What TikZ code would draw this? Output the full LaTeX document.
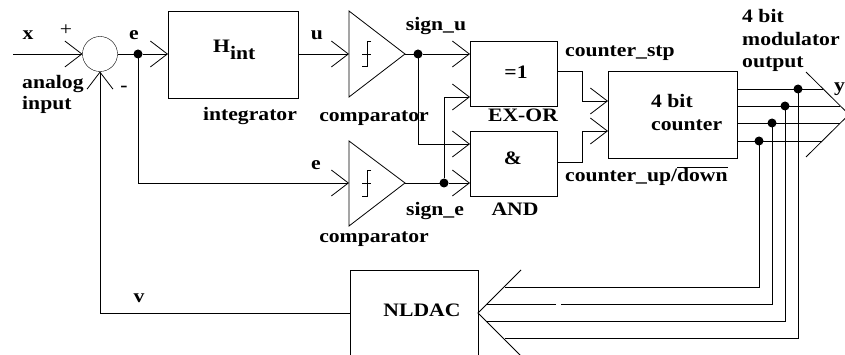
\documentclass[tikz,border=0pt]{standalone}
\usepackage{fontspec}
\setmainfont[FakeStretch=1.14]{Liberation Serif}
\usetikzlibrary{arrows.meta}
\begin{document}
\begin{tikzpicture}[x=1pt,y=-1pt]
	\tikzstyle{box}=[rectangle,draw,inner sep=0,outer sep=0]
	\tikzstyle{sumnode}=[circle,draw,minimum size=35pt,inner sep=0,outer sep=0]
	\tikzstyle{dotnode}=[circle,fill=black,minimum size=9pt,inner sep=0,outer sep=0]
	\tikzstyle{edge}=[-{Straight Barb[length=17pt,width=26pt]},line width=0.8pt]
	\tikzstyle{wire}=[line width=0.8pt]
	\tikzstyle{lab}=[font=\fontsize{19}{19}\selectfont\bfseries,inner sep=0,anchor=base]
	\tikzstyle{labl}=[lab,anchor=base west]

	\useasboundingbox (0,0) rectangle (845,355);

	\coordinate (xin) at (13,54);
	\node [sumnode] (sum) at (100,54) {};
	\node [dotnode] (dote) at (138,54) {};
	\node [box,minimum width=130pt,minimum height=87pt] (hint) at (233,54.5) {};
	\coordinate (compu) at (349,54);
	\coordinate (compuout) at (405,54);
	\coordinate (compe) at (349,183);
	\coordinate (compeout) at (405,183);
	\node [dotnode] (dotu) at (418,54) {};
	\node [dotnode] (dotse) at (444,183) {};
	\node [box,minimum width=87pt,minimum height=65pt] (xor) at (513.5,73.5) {};
	\node [box,minimum width=87pt,minimum height=65pt] (and) at (513.5,163.5) {};
	\node [box,minimum width=129pt,minimum height=87pt] (cnt) at (672.5,114.5) {};
	\node [box,minimum width=128pt,minimum height=100pt] (dac) at (414,320) {};

	\coordinate (xorb) at (470,97);
	\coordinate (anda) at (470,144);
	\coordinate (andb) at (470,183);
	\coordinate (xorout) at (557,71);
	\coordinate (andout) at (557,162);
	\coordinate (cnta) at (608,101);
	\coordinate (cntb) at (608,131);
	\coordinate (dacin) at (350,313);

	\node [dotnode] (q1) at (798,89) {};
	\node [dotnode] (q2) at (785,106) {};
	\node [dotnode] (q3) at (772,123) {};
	\node [dotnode] (q4) at (759,141) {};
	\coordinate (y1) at (823,89);
	\coordinate (y2) at (840,106);
	\coordinate (y3) at (840,123);
	\coordinate (y4) at (822,141);
	\coordinate (ytip) at (849,114.5);
	\coordinate (dactip) at (478,313);

	% comparators
	\draw[wire] (349,11)--(compuout)--(349,97)--cycle;
	\draw[wire] (349,141)--(compeout)--(349,226)--cycle;

	\draw[edge] (xin)--(sum.west);
	\draw[edge] (dacin)-|(sum.south);
	\draw[wire] (sum.east)--(dote);
	\draw[edge] (dote)--(dote-|hint.west);
	\draw[edge] (dote)|-(compe);
	\draw[edge] (compu-|hint.east)--(compu);
	\draw[wire] (compuout)--(dotu);
	\draw[edge] (dotu)--(dotu-|xor.west);
	\draw[edge] (dotu)|-(anda);
	\draw[wire] (compeout)--(dotse);
	\draw[edge] (dotse)--(andb);
	\draw[edge] (dotse)|-(xorb);
	\draw[edge] (xorout)--(582,71)--(582,101)--(cnta);
	\draw[edge] (andout)--(582,162)--(582,131)--(cntb);

	% counter outputs
	\draw[wire] (q1-|cnt.east)--(y1);
	\draw[wire] (q2-|cnt.east)--(y2);
	\draw[wire] (q3-|cnt.east)--(y3);
	\draw[wire] (q4-|cnt.east)--(y4);
	\draw[wire] (806,72)--(ytip)--(806,157);

	% feedback to the dac
	\draw[wire] (q1)--(798,338)--(505,338);
	\draw[wire] (q2)--(785,321)--(487,321);
	\draw[wire] (q3)--(772,304)--(561,304);
	\draw[wire] (556,304)--(487,304);
	\draw[wire] (q4)--(759,287)--(505,287);
	\draw[wire] (521,270)--(dactip)--(521,356);

	% hysteresis symbols
	\draw[wire] (371,41)--(367,41)--(367,66)--(362,66);
	\draw[wire] (362,54)--(371,54);
	\draw[wire] (371,170)--(367,170)--(367,196)--(362,196);
	\draw[wire] (362,183)--(371,183);

	\node [lab] (lx) at (28,40) {x};
	\node [lab,font=\fontsize{19}{19}\selectfont] (lplus) at (66,36) {+};
	\node [labl] (lana) at (22,89) {analog};
	\node [labl] (linp) at (22,110) {input};
	\node [lab] (lminus) at (124,92) {-};
	\node [lab] (le) at (134,40) {e};
	\node [labl] (lh) at (213,53) {H\raisebox{-7pt}{int}};
	\node [lab] (lint) at (250,121) {integrator};
	\node [lab] (lu) at (317,40) {u};
	\node [lab] (lsu) at (436,31) {sign\_u};
	\node [lab] (lcu) at (374,122) {comparator};
	\node [lab] (lxo) at (516,79) {=1};
	\node [lab] (lexor) at (523,122) {EX-OR};
	\node [lab] (lamp) at (513,165) {\&};
	\node [lab] (lee) at (316,170) {e};
	\node [lab] (lse) at (435,216) {sign\_e};
	\node [lab] (lan) at (515,216) {AND};
	\node [lab] (lce) at (374,243) {comparator};
	\node [labl] (lstp) at (565,57) {counter\_stp};
	\node [labl] (lud) at (565,182) {counter\_up/$\overline{\mbox{down}}$};
	\node [labl] (lc1) at (651,108) {4 bit};
	\node [labl] (lc2) at (651,131) {counter};
	\node [labl] (lm1) at (742,23) {4 bit};
	\node [labl] (lm2) at (742,46) {modulator};
	\node [labl] (lm3) at (742,68) {output};
	\node [labl] (ly) at (834,92) {y};
	\node [lab] (lv) at (139,302) {v};
	\node [lab] (ldac) at (422,316) {NLDAC};
\end{tikzpicture}
\end{document}
